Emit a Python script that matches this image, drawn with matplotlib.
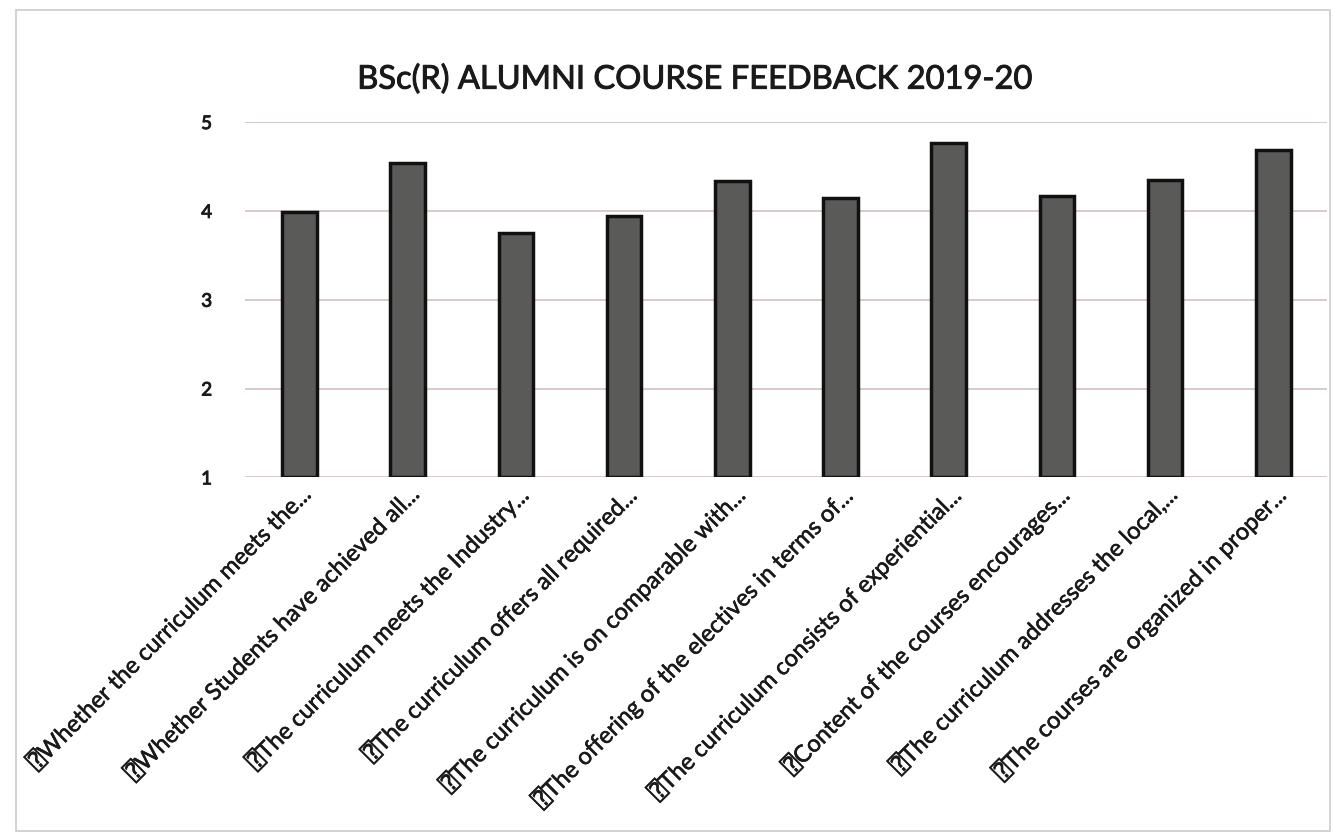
import matplotlib.pyplot as plt
import matplotlib.patheffects as pe
from matplotlib.patches import Rectangle

title = "BSc(R) ALUMNI COURSE FEEDBACK 2019-20"
questions = [
    "\u2370Whether the curriculum meets the...",
    "\u2370Whether Students have achieved all...",
    "\u2370The curriculum meets the Industry...",
    "\u2370The curriculum offers all required...",
    "\u2370The curriculum is on comparable with...",
    "\u2370The offering of the electives in terms of...",
    "\u2370The curriculum consists of experiential...",
    "\u2370Content of the courses encourages...",
    "\u2370The curriculum addresses the local,...",
    "\u2370The courses are organized in proper...",
]
scores = [3.99, 4.54, 3.75, 3.94, 4.34, 4.15, 4.76, 4.17, 4.35, 4.69]
yticks = [1, 2, 3, 4, 5]

plt.rcParams['font.family'] = ['Lato', 'DejaVu Sans', 'DejaVu Sans Mono']
heavy = [pe.withStroke(linewidth=0.7, foreground='#1a1a1a')]

fig = plt.figure(figsize=(13.34, 8.36), dpi=100)
fig.patch.set_facecolor('white')
ax = fig.add_axes([0.184, 0.429, 0.811, 0.425])

x = range(len(scores))
base = yticks[0]
ax.bar(x, [s - base for s in scores], bottom=base, width=0.32,
       color='#5a5a58', edgecolor='#111111', linewidth=2.5, zorder=3)

ax.set_xlim(-0.5, len(scores) - 0.5)
ax.set_ylim(yticks[0], yticks[-1])
ax.set_yticks(yticks)
ax.set_yticklabels([str(t) for t in yticks], fontsize=13.5,
                   color='#1a1a1a', path_effects=heavy)
ax.grid(axis='y', color='#d8c4c6', linewidth=1.3, zorder=0)
ax.set_xticks(list(x))
ax.set_xticklabels(questions, rotation=45, ha='right', va='top',
                   rotation_mode='anchor', fontsize=17, color='#1a1a1a',
                   path_effects=[pe.withStroke(linewidth=0.4,
                                               foreground='#1a1a1a')])
ax.tick_params(axis='y', length=0, pad=24)
ax.tick_params(axis='x', length=0, pad=4)
for side in ax.spines.values():
    side.set_visible(False)

fig.text(0.521, 0.905, title, ha='center', va='center', fontsize=23.5,
         color='#1a1a1a', path_effects=heavy)

# thin outline of the chart area
fig.patches.append(Rectangle((0.012, 0.006), 0.985, 0.982,
                             transform=fig.transFigure, fill=False,
                             edgecolor='#cfc8c8', linewidth=1.2))

fig.savefig('out.png', dpi=100)
